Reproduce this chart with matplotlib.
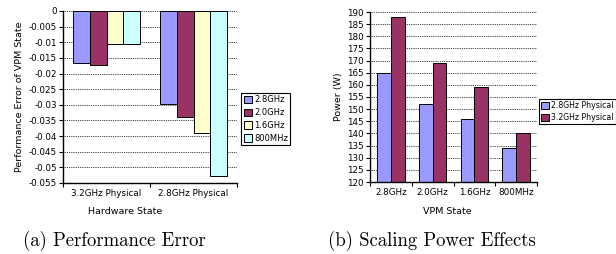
import matplotlib
matplotlib.use("Agg")
import matplotlib.pyplot as plt
import numpy as np

W, H = 616, 254

# Panel (a) data
hw_states = ["3.2GHz Physical", "2.8GHz Physical"]
vpm_series = ["2.8GHz", "2.0GHz", "1.6GHz", "800MHz"]
err_28 = [-0.0165, -0.0298]
err_20 = [-0.0172, -0.0338]
err_16 = [-0.0105, -0.0389]
err_800 = [-0.0107, -0.0528]
err_ticks = [0, -0.005, -0.01, -0.015, -0.02, -0.025, -0.03, -0.035, -0.04, -0.045, -0.05, -0.055]
err_ticklabels = ["0", "-0.005", "-0.01", "-0.015", "-0.02", "-0.025", "-0.03", "-0.035", "-0.04", "-0.045", "-0.05", "-0.055"]

# Panel (b) data
vpm_states = ["2.8GHz", "2.0GHz", "1.6GHz", "800MHz"]
power_series = ["2.8GHz Physical", "3.2GHz Physical"]
power_28phys = [165, 152, 146, 134]
power_32phys = [188, 169, 159, 140]
power_ticks = list(range(120, 191, 5))

c_blue = "#9999FF"
c_maroon = "#993366"
c_yellow = "#FFFFCC"
c_cyan = "#CCFFFF"

fig = plt.figure(figsize=(W / 100, H / 100), dpi=100)

def px_axes(x0, y0, x1, y1):
    return fig.add_axes([x0 / W, 1 - y1 / H, (x1 - x0) / W, (y1 - y0) / H])

tick_fs = 6.3

def style(ax):
    for s in ["top", "right"]:
        ax.spines[s].set_visible(False)
    ax.spines["left"].set_linewidth(1.0)
    ax.spines["bottom"].set_linewidth(1.0)
    ax.yaxis.grid(True, linestyle=(0, (1, 1.2)), color="black", linewidth=0.6)
    ax.set_axisbelow(True)
    ax.tick_params(axis="y", direction="out", length=3, width=0.8, labelsize=tick_fs, pad=1.5)
    ax.tick_params(axis="x", which="major", direction="out", length=3, width=0.8, labelbottom=False)
    ax.tick_params(axis="x", which="minor", length=0, labelsize=tick_fs, pad=4)

leg_kw = dict(frameon=True, fancybox=False, edgecolor="black", framealpha=1,
              handlelength=1.0, handleheight=1.0, handletextpad=0.25, borderpad=0.3,
              borderaxespad=0)

# ---- Panel (a)
ax1 = px_axes(63, 11, 237, 183)
series_a = [err_28, err_20, err_16, err_800]
colors_a = [c_blue, c_maroon, c_yellow, c_cyan]
x = np.arange(len(hw_states)) + 0.5
bw = 0.195
for i, (vals, col, lab) in enumerate(zip(series_a, colors_a, vpm_series)):
    ax1.bar(x + (i - 1.5) * bw, vals, bw, color=col, edgecolor="black", linewidth=0.7, label=lab)
ax1.set_xlim(0, 2)
ax1.set_ylim(-0.055, 0)
ax1.set_yticks(err_ticks)
ax1.set_yticklabels(err_ticklabels)
ax1.set_xticks([0, 1, 2])
ax1.set_xticks(x, minor=True)
ax1.set_xticklabels(hw_states, minor=True)
style(ax1)
ax1.set_ylabel("Performance Error of VPM State", fontsize=6.8, labelpad=3)
fig.text(125 / W, 1 - 212 / H, "Hardware State", fontsize=6.8, ha="center", va="center")
leg1 = ax1.legend(loc="upper left", bbox_to_anchor=(241 / W, 1 - 93 / H), bbox_transform=fig.transFigure,
                  fontsize=6.0, labelspacing=0.45, **leg_kw)
leg1.get_frame().set_linewidth(0.8)

# ---- Panel (b)
ax2 = px_axes(370, 12, 537, 182)
x2 = np.arange(len(vpm_states)) + 0.5
bw2 = 0.33
for i, (vals, col, lab) in enumerate(zip([power_28phys, power_32phys], [c_blue, c_maroon], power_series)):
    ax2.bar(x2 + (i - 0.5) * bw2, vals, bw2, color=col, edgecolor="black", linewidth=0.7, label=lab)
ax2.set_xlim(0, 4)
ax2.set_ylim(120, 190)
ax2.set_yticks(power_ticks)
ax2.set_xticks([0, 1, 2, 3, 4])
ax2.set_xticks(x2, minor=True)
ax2.set_xticklabels(vpm_states, minor=True)
style(ax2)
ax2.set_ylabel("Power (W)", fontsize=6.8, labelpad=3)
fig.text(447 / W, 1 - 212 / H, "VPM State", fontsize=6.8, ha="center", va="center")
leg2 = ax2.legend(loc="upper left", bbox_to_anchor=(539 / W, 1 - 99 / H), bbox_transform=fig.transFigure,
                  fontsize=5.6, labelspacing=0.35, **leg_kw)
leg2.get_frame().set_linewidth(0.8)

# Captions
fig.text(114 / W, 1 - 241 / H, "(a) Performance Error", fontsize=13.5, family="cmr10", ha="center", va="center")
fig.text(432 / W, 1 - 241 / H, "(b) Scaling Power Effects", fontsize=13.5, family="cmr10", ha="center", va="center")

fig.savefig("out.png", dpi=100)
